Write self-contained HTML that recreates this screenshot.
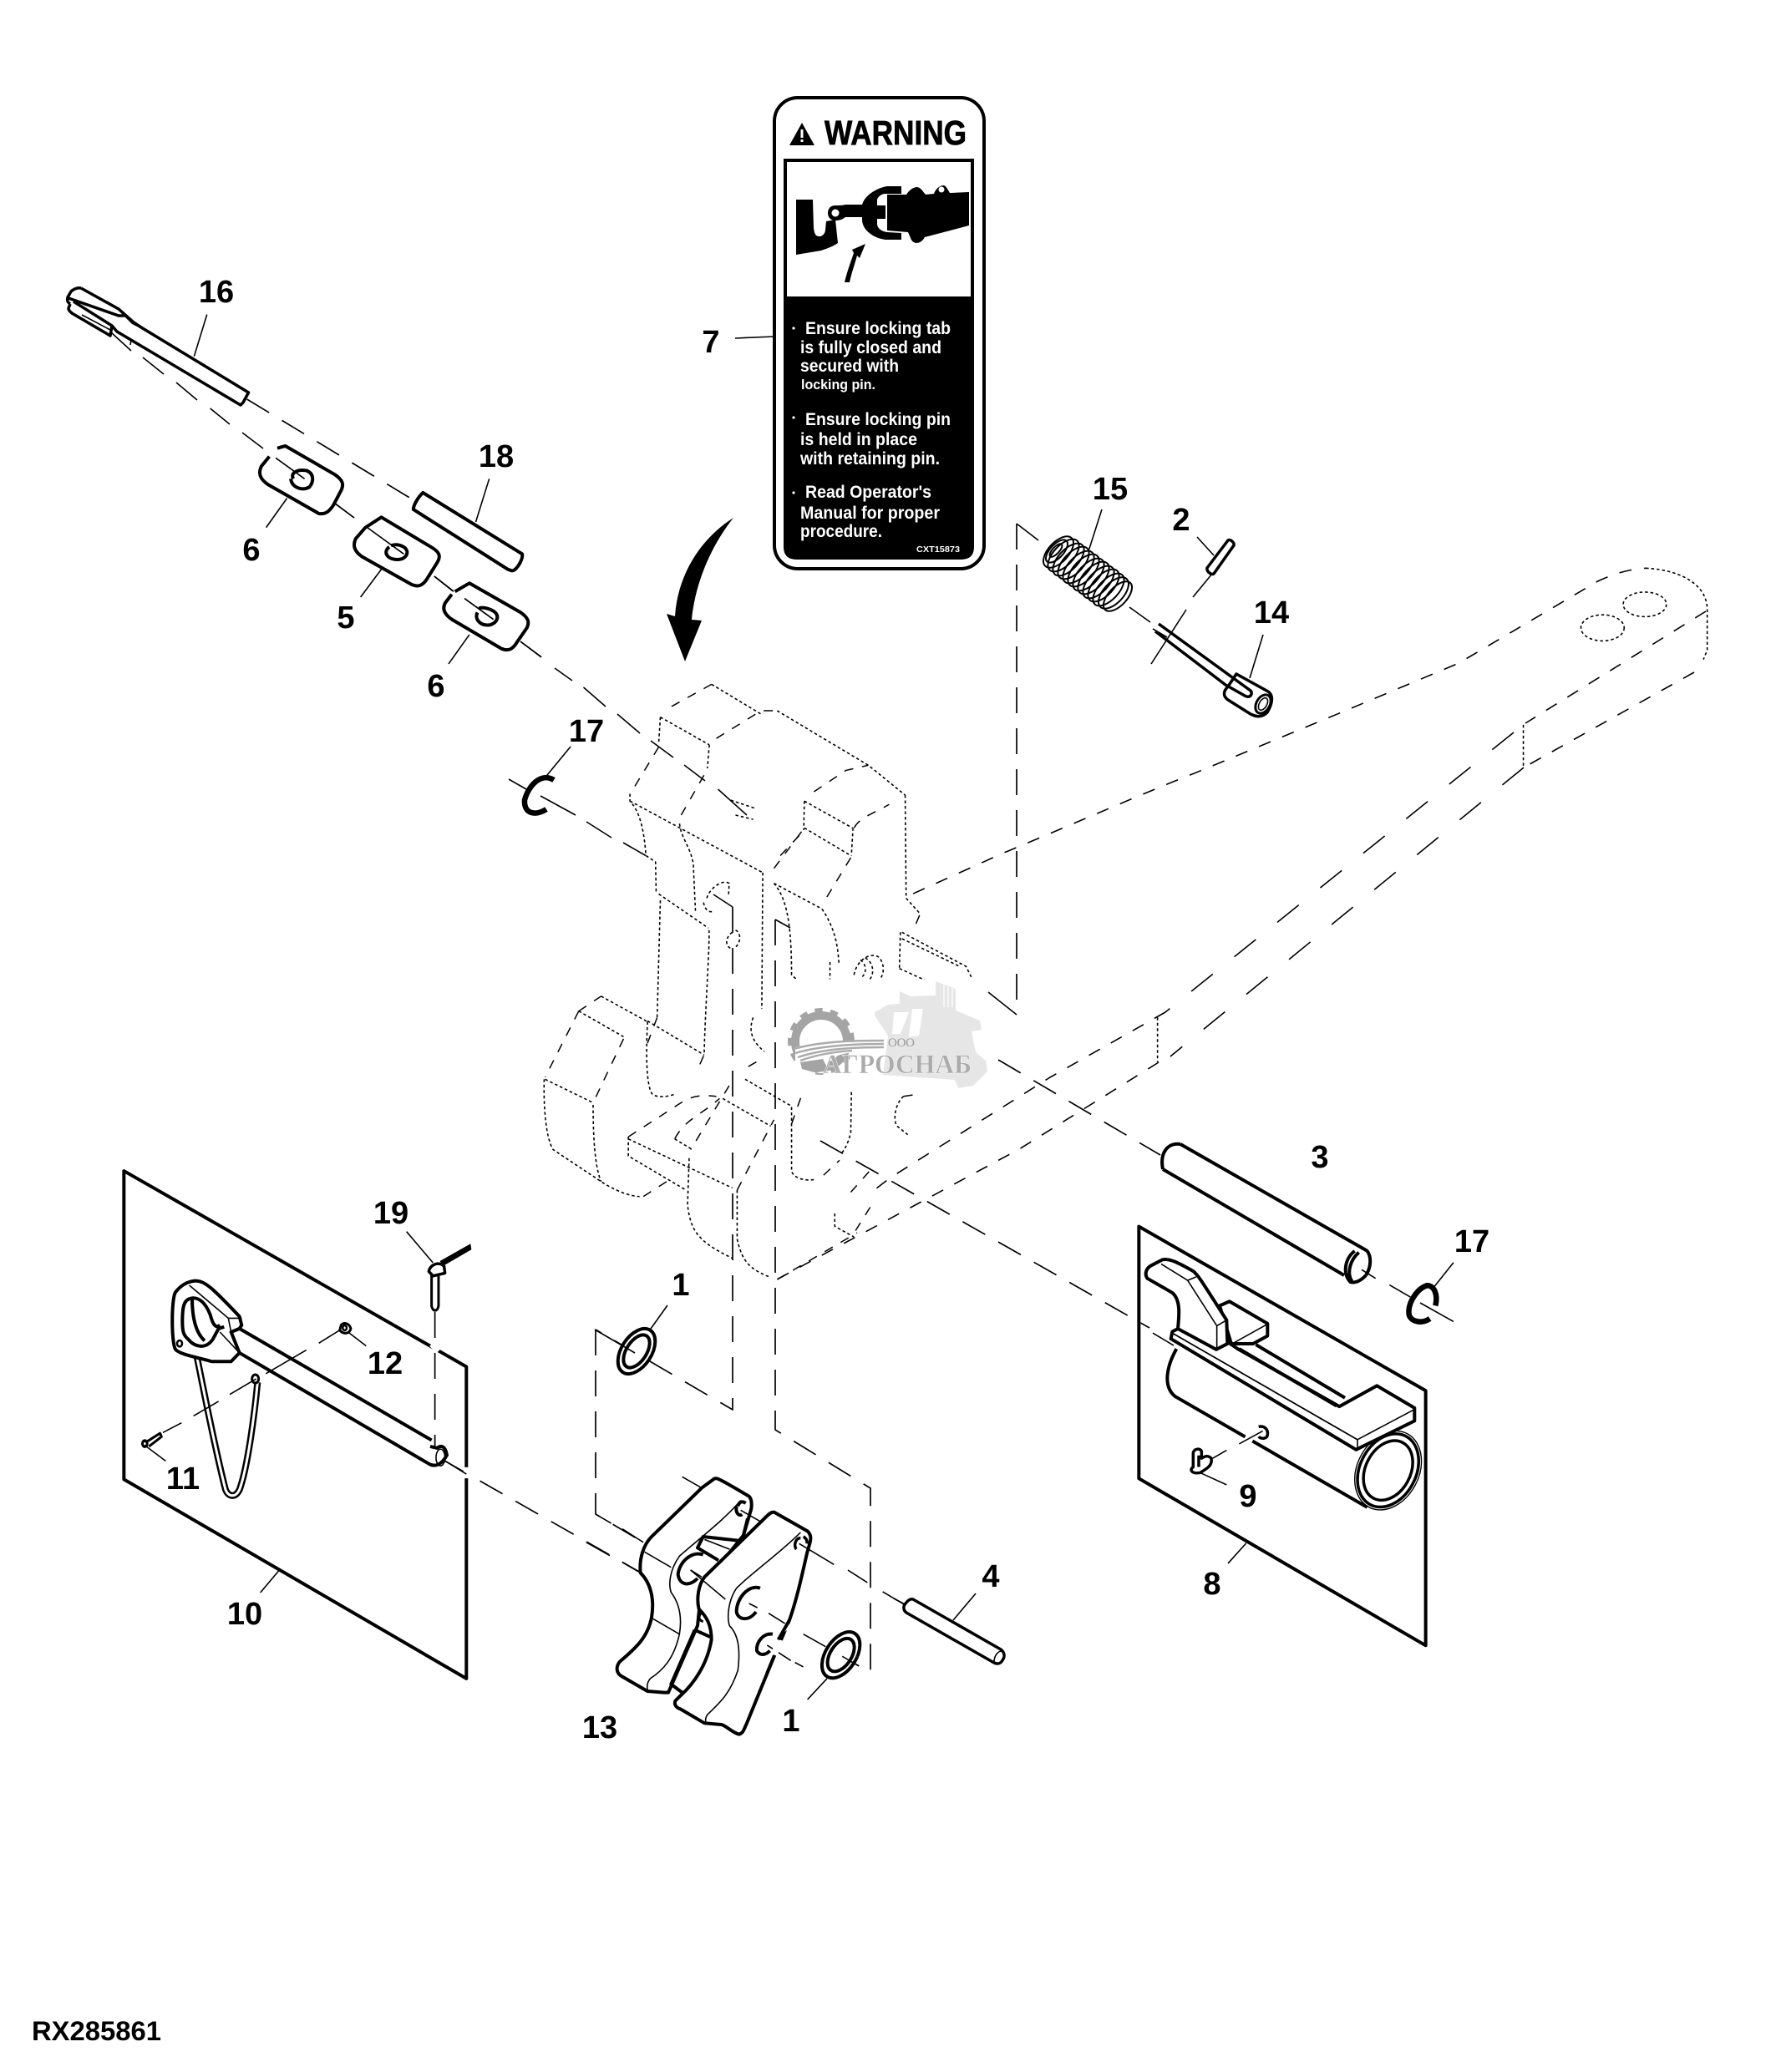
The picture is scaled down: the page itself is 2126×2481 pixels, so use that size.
<!DOCTYPE html>
<html><head><meta charset="utf-8"><style>
html,body{margin:0;padding:0;background:#fff}
svg{display:block}
svg *{vector-effect:non-scaling-stroke}
path,line,polyline,ellipse,circle,rect,polygon{stroke-linejoin:round}
.n{fill:none;stroke:#000}
.t{fill:none;stroke:#000;stroke-width:1.6}
.k{fill:none;stroke:#000;stroke-width:4}
.kw{fill:#fff;stroke:#000;stroke-width:4}
.dl{fill:none;stroke:#000;stroke-width:1.7;stroke-dasharray:31 18}
.d{fill:none;stroke:#000;stroke-width:1.6;stroke-dasharray:3.5 3}
.u{fill:none;stroke:#000;stroke-width:1.5;stroke-dasharray:11 11}
.a{fill:none;stroke:#000;stroke-width:1.6;stroke-dasharray:15 15}
.b{fill:none;stroke:#000;stroke-width:1.6;stroke-dasharray:33 33}
.l{font:bold 38px "Liberation Sans",sans-serif;text-anchor:middle;fill:#000}
.c{font:bold 21px "Liberation Sans",sans-serif;fill:#fff}
</style></head><body>
<svg xmlns="http://www.w3.org/2000/svg" width="2126" height="2481" viewBox="0 0 2126 2481">
<rect width="2126" height="2481" fill="#fff"/>

<!-- hitch dotted -->
<g transform="translate(620,800) scale(.3831,.5102)">
<path class="d" d="M605,38L760,108M810,100L1095,228L1210,298M445,115L598,180M445,115L440,175M598,180L592,235M350,295L350,312C385,340 395,390 400,440L430,455L432,530M350,312L765,480M505,365C510,400 540,420 548,460L555,575M440,530L595,610M445,545L435,820M597,615C600,650 585,800 582,905M405,828L582,908M260,770L405,830M190,805L330,865M85,965L235,1020M82,965C80,1020 85,1100 110,1130L260,1205C300,1225 350,1240 380,1240M235,1025C235,1100 240,1170 260,1205M405,830C400,900 400,980 420,1000C440,1010 470,1005 490,1000M590,540C600,515 640,495 660,505L658,535M580,550C585,570 600,575 612,570M670,620C650,630 645,650 665,658M680,615C695,620 700,640 680,655M665,310L745,330M680,345L735,355M765,480L762,800M895,312L1045,375M895,312L893,380M895,375L1040,440M1047,375L1042,440M1210,298L1213,540L1255,575M800,505L950,565M800,505C840,540 855,600 855,720L870,730M950,565C990,610 1000,650 1003,695M975,690L975,730M1195,620L1192,705M1200,620L1400,700L1420,730M1200,635L1380,700M1192,705L1280,735M1050,720C1060,680 1110,665 1130,680C1150,700 1140,725 1130,730M1085,680C1110,690 1115,715 1100,730M1070,685C1090,695 1090,715 1075,725M735,820C720,850 730,875 770,900M710,965L855,1028M855,1030L855,1180C860,1195 890,1205 930,1200M1042,995L1040,1090C1030,1120 1020,1130 1010,1140M1205,1005C1180,1020 1170,1060 1185,1075L1218,1095M640,1010L790,1075M345,1100L345,1145L525,1225M345,1105L670,1220M490,1105L545,1130M535,1150L530,1260C540,1320 560,1345 670,1385M685,1225L685,1340C700,1390 720,1410 790,1430M990,1280L990,1310L1050,1335"/>
<path class="u" d="M480,90L605,38M620,165L760,100L810,100M440,185L355,290M510,345L590,240M190,805L260,770M190,805L85,960M330,870L235,1020M392,1240L475,1200M435,820L405,880M580,910L560,945M800,470L895,375M820,440L895,380M925,290L1025,240L1095,228M1050,375C1070,350 1100,345 1160,320M1040,445L955,550M1255,580L1235,615M720,935L755,920M955,1190L1005,1155M855,1070L890,995M1205,1005L1250,1000M345,1100L520,1015C560,1000 590,1003 620,1005M660,980L540,1130M490,1105C520,1060 570,1050 630,1010M685,1225L800,1060M810,1435L1060,1325M1040,1230L1105,1175M1055,1320L1105,1260"/>
</g>

<!-- tow arm -->
<g transform="translate(1200,600) scale(.5747,.4464)">
<path class="a" d="M-186,1053L0,945C150,865 300,780 400,730L700,570L950,435L1240,215C1290,185 1320,182 1340,180"/>
<path class="d" d="M1340,180C1420,185 1468,230 1468,290L1468,400L1460,425M1085,600L1085,715M323,1385L323,1505"/>
<ellipse class="d" cx="1250" cy="340" rx="45" ry="35"/><ellipse class="d" cx="1338" cy="277" rx="45" ry="33"/>
</g>
<path class="a" d="M2042,732L1826,866"/><path class="b" d="M1812,877L1395,1212"/><path class="a" d="M1395,1212L1257,1290L1066,1410L1040,1430"/>
<path class="a" d="M2028,805L1824,919"/><path class="b" d="M1824,919L1401,1265"/><path class="a" d="M1387,1272L1220,1376L930,1532"/>

<!-- connector lines -->
<path class="dl" d="M295.6,478L497,600"/>
<path class="t" d="M133,398L157,420M171,428L196,448M211,458L236,479M251.6,489L275,508M290,518L315,537M401,603L424,620M520,690L543,708M623,768L648,787M664,800L685,815M698.5,823L725,846M739,855L766,878M779,887L806,907M819,916L844,935M859.5,945L894,976M609,933L630,945M702,984L732,1003M746,1009L773,1024.5"/>
<path class="t" d="M647,953L689,976"/>
<path class="t" d="M1217,627L1243,647M1217,1215L1183,1188"/>
<path class="dl" d="M1217,627L1217,1215"/>
<path class="dl" d="M1195,1269L1389,1383"/>
<path class="dl" d="M982,1366L1376,1590"/>
<path class="t" d="M854,1071L877,1086M928,1101L946,1111"/>
<path class="dl" d="M877,1086L877,1688L713,1592"/>
<path class="dl" d="M713,1592L713,1813L767,1845"/>
<path class="dl" d="M928,1101L928,1712L1042,1782L1042,2003"/>
<path class="dl" d="M532,1749L767,1883"/>

<!-- pin 16 head + shaft -->
<path class="k" style="stroke-width:3.5" d="M97,345C92,344 87,347 85,349L81,356C80,360 81,362 84,364M97,345L142,370L160,386L169,392L297.5,470L291,482L288,485L140,397L134,390L132,402L86,375C84,373 82,372 82,369L84,364M82,357L142,378L150,378M88,361L134,390"/>
<path class="t" d="M98,377L132,395M157,407L156,413"/>
<path d="M142,372L150,378L170,394L158,388Z" fill="#000"/>

<g transform="translate(60,320) scale(.3831,.3333)">
<path class="t" d="M490,170L450,320M1372,760L1330,915M740,830L675,935M1035,1085L970,1185M1310,1320L1245,1425M705,685L795,760M985,930L1105,1030M1295,1190L1385,1265M890,848L950,900M1200,1110L1260,1165"/>
<path class="k" style="fill:#fff" d="M1165,810L1475,1030C1478,1045 1465,1075 1450,1088C1445,1092 1440,1090 1430,1085L1135,870C1135,855 1150,825 1165,810Z"/>
<path class="k" d="M710,650L735,642L890,745C915,765 918,780 910,800L885,855C870,880 860,888 840,885L680,780C655,760 650,740 660,715L685,680"/>
<path class="k" d="M760,760C750,740 770,725 800,730C825,740 825,770 810,790C785,805 755,790 752,760"/>
<path class="k" d="M985,935L1035,898L1190,1005C1220,1025 1220,1040 1210,1060L1180,1115C1165,1145 1150,1150 1130,1140L975,1040C950,1020 945,1000 955,975Z"/>
<path class="k" d="M1060,1005C1040,1020 1050,1050 1085,1050C1115,1050 1125,1020 1105,1005C1090,995 1075,995 1065,1000"/>
<path class="k" d="M1265,1165L1310,1135L1470,1240C1495,1260 1498,1275 1490,1295L1460,1345C1445,1375 1430,1380 1410,1370L1255,1265C1230,1245 1225,1225 1235,1205L1255,1175" />
<path class="k" d="M1335,1240C1325,1265 1345,1290 1375,1285C1400,1275 1405,1250 1385,1235C1370,1225 1350,1220 1340,1225"/>
<path class="t" d="M1295,1190L1385,1265M1470,1345L1535,1400"/>
</g>

<!-- big arrow -->
<path d="M878,620C846,640 812,680 808,738L798,735L820,792L840,743L828,742C832,700 850,655 878,620Z" fill="#000"/>

<!-- warning card -->
<rect x="927" y="117" width="251" height="564" rx="28" fill="#fff" stroke="#000" stroke-width="4"/>
<path d="M938,190H1166V655Q1166,670 1150,670H954Q938,670 938,655Z" fill="#000"/>
<rect x="942" y="194" width="220" height="161" fill="#fff"/>
<polygon points="945,174 975,174 960,147" fill="#000"/>
<rect x="958.5" y="155" width="3" height="10" fill="#fff"/><rect x="958.5" y="167" width="3" height="3" fill="#fff"/>
<text x="987" y="173" font-family="Liberation Sans" font-weight="bold" font-size="41" textLength="170" lengthAdjust="spacingAndGlyphs" stroke="#000" stroke-width=".8">WARNING</text>
<path d="M953,239H973L974,273C975,281 977,283 981,283C985,283 988,279 988,275L989,265L1000,263L1003,291C996,296 988,298 983,300L953,305Z" fill="#000"/>
<path d="M1000,246C1004,246 1008,246 1012,245H1034V260H1012C1008,263 1005,264 1000,264C994,264 991,260 991,255C991,250 994,246 1000,246Z" fill="#000"/>
<circle cx="1000" cy="255" r="4.5" fill="#fff"/>
<path d="M1079,223H1062C1045,226 1032,238 1032,247V263C1032,275 1045,285 1060,287H1079V279L1062,278C1055,277 1050,273 1050,268V262H1060V246H1050V240C1050,236 1055,232 1060,232H1079Z" fill="#000"/>
<path d="M1062,233H1085C1088,228 1093,224 1098,224C1103,225 1105,230 1108,233L1118,232C1120,226 1125,222 1130,222C1133,223 1135,228 1137,231L1160,230V270L1107,284C1103,292 1093,294 1090,285L1087,278L1062,276Z" fill="#000"/>
<circle cx="1127" cy="227" r="3.5" fill="#fff"/>
<path d="M1011,338C1014,325 1018,315 1022,303L1020,299L1036,292L1029,309L1026,306C1023,317 1019,328 1017,338Z" fill="#000"/>
<g class="c">
<circle cx="950" cy="393" r="1.6" fill="#fff"/><circle cx="950" cy="500" r="1.6" fill="#fff"/><circle cx="950" cy="590" r="1.6" fill="#fff"/>
<text x="964" y="400" textLength="174" lengthAdjust="spacingAndGlyphs">Ensure locking tab</text>
<text x="958" y="423" textLength="169" lengthAdjust="spacingAndGlyphs">is fully closed and</text>
<text x="958" y="445" textLength="118" lengthAdjust="spacingAndGlyphs">secured with</text>
<text x="959" y="466" textLength="89" lengthAdjust="spacingAndGlyphs" style="font-size:17px">locking pin.</text>
<text x="964" y="509" textLength="174" lengthAdjust="spacingAndGlyphs">Ensure locking pin</text>
<text x="958" y="533" textLength="140" lengthAdjust="spacingAndGlyphs">is held in place</text>
<text x="958" y="556" textLength="167" lengthAdjust="spacingAndGlyphs">with retaining pin.</text>
<text x="964" y="596" textLength="151" lengthAdjust="spacingAndGlyphs">Read Operator's</text>
<text x="958" y="621" textLength="167" lengthAdjust="spacingAndGlyphs">Manual for proper</text>
<text x="958" y="643" textLength="98" lengthAdjust="spacingAndGlyphs">procedure.</text>
<text x="1097" y="661" textLength="52" lengthAdjust="spacingAndGlyphs" style="font-size:10px">CXT15873</text>
</g>
<path class="t" d="M880,405L926,403"/>

<!-- spring, pins 2, 14 -->
<g fill="none" stroke="#000" stroke-width="2">
<ellipse cx="1267" cy="661" rx="12" ry="23" transform="rotate(43 1267 661)"/>
<ellipse cx="1273" cy="665" rx="12" ry="24" transform="rotate(43 1273 665)"/>
<ellipse cx="1279" cy="670" rx="12" ry="24" transform="rotate(43 1279 670)"/>
<ellipse cx="1285" cy="674" rx="12" ry="24" transform="rotate(43 1285 674)"/>
<ellipse cx="1291" cy="679" rx="12" ry="24" transform="rotate(43 1291 679)"/>
<ellipse cx="1297" cy="683" rx="12" ry="24" transform="rotate(43 1297 683)"/>
<ellipse cx="1303" cy="688" rx="12" ry="24" transform="rotate(43 1303 688)"/>
<ellipse cx="1309" cy="692" rx="12" ry="24" transform="rotate(43 1309 692)"/>
<ellipse cx="1315" cy="697" rx="12" ry="24" transform="rotate(43 1315 697)"/>
<ellipse cx="1321" cy="701" rx="12" ry="24" transform="rotate(43 1321 701)"/>
<ellipse cx="1327" cy="706" rx="12" ry="24" transform="rotate(43 1327 706)"/>
<ellipse cx="1333" cy="710" rx="12" ry="23" transform="rotate(43 1333 710)"/>
<ellipse cx="1338" cy="714" rx="11" ry="22" transform="rotate(43 1338 714)"/>
<ellipse cx="1265" cy="660" rx="8" ry="17" transform="rotate(43 1265 660)"/>
<ellipse cx="1264" cy="659" rx="4" ry="10" transform="rotate(43 1264 659)"/>
</g>
<path class="t" d="M1319,610L1303,660M1352,727L1377,745M1433,643L1453,665M1451,687L1428,715M1420,730L1378,795M1512,760L1496,812"/>
<path class="k" style="stroke-width:3.5" d="M1445,680L1470,647C1473,645 1478,650 1477,653L1453,687C1450,689 1444,684 1445,680Z"/>
<path class="kw" style="stroke-width:3.5" d="M1480,807L1518,828C1525,833 1523,843 1517,853C1510,860 1503,858 1497,855L1470,838C1463,833 1465,827 1470,822Z"/>
<ellipse class="k" style="stroke-width:3" cx="1512" cy="843" rx="8" ry="12" transform="rotate(30 1512 843)"/>
<ellipse class="k" style="stroke-width:1.6" cx="1512" cy="843" rx="4.5" ry="8" transform="rotate(30 1512 843)"/>
<path class="k" style="stroke-width:3.5" d="M1387,747L1497,827C1500,830 1497,837 1490,833L1467,820L1383,756"/>
<path class="t" d="M1380,753L1397,763"/>

<!-- pin 3 -->
<path class="k" d="M1413,1370L1637,1498M1392,1400L1609,1527M1413,1370C1398,1368 1388,1380 1392,1400"/>
<g transform="translate(1360,1460) scale(.3333,.3448)">
<path class="k" d="M830,110C845,130 845,165 825,195M785,110C750,135 740,190 770,218C790,222 810,210 825,195M800,115C770,140 755,185 775,215"/>
<path class="t" d="M810,175L860,205M910,228L985,270M1020,290L1140,355M1070,235L1140,150"/>
<path class="k" style="stroke-width:6.5" d="M1075,300C1085,260 1070,230 1045,230C1010,240 975,290 980,330C985,355 1025,365 1055,345"/>
<!-- panel 8 -->
<path class="k" d="M10,25L1040,595L1040,1480L10,900Z"/>
<path class="t" d="M395,1125L330,1195"/>
<path class="k" style="fill:#fff" d="M145,450C110,510 95,580 140,615L830,1000"/>
<path class="t" style="stroke:#fff;stroke-width:6" d="M392,755L418,770"/>
<ellipse class="n" stroke-width="3.5" cx="905" cy="872" rx="100" ry="135" transform="rotate(30 905 872)" fill="#fff"/>
<ellipse class="n" stroke-width="1.4" cx="905" cy="872" rx="110" ry="145" transform="rotate(30 905 872)"/>
<ellipse class="n" stroke-width="3.5" cx="905" cy="872" rx="80" ry="110" transform="rotate(30 905 872)"/>
<path class="kw" d="M130,390L125,415L790,800L1000,700V655L865,578L730,650L365,450L290,400L150,380Z"/>
<path class="t" d="M130,395L795,765L1000,660M795,765V800"/>
<path class="kw" d="M300,300L335,285L472,362V405L420,432H342L300,300Z"/>
<path class="k" d="M430,435L750,620M370,450L720,648"/>
<path class="t" d="M340,435L470,365"/>
<path class="kw" d="M150,380C155,330 160,280 130,255L40,205C30,190 35,170 55,160L95,140C120,135 150,150 205,180C225,195 245,230 325,350L328,432L288,452Z"/>
<path class="t" d="M90,155L185,212L290,370V450M290,370L325,350M185,212L215,200M60,395L135,438M130,395L795,765"/>
<path class="k" style="stroke-width:3.5" d="M440,720C465,715 478,735 470,755C460,765 445,760 440,755"/>
<path class="k" style="stroke-width:3.5" d="M205,810L205,860C190,870 200,885 230,880C255,865 275,855 270,830C260,820 250,820 235,830L235,805C230,795 210,795 205,810ZM225,820V860"/>
<path class="t" d="M275,830L325,802M370,780L455,735M230,880L325,922"/>
</g>

<!-- panel 10 -->
<g transform="translate(130,1400) scale(.3333,.4149)">
<path class="k" d="M55,5L1285,570V1470L55,895Z"/>
<path class="n" style="stroke:#fff;stroke-width:7" d="M1160,505L1185,525M1285,860V892"/>
<path class="t" d="M610,1160L545,1222"/>
<path class="n" stroke-width="8" d="M318,545C345,650 380,800 420,925C430,945 455,950 470,925C500,860 525,700 535,615"/>
<path class="n" style="stroke:#fff" stroke-width="3" d="M318,545C345,650 380,800 420,925C430,945 455,950 470,925C500,860 525,700 535,615"/>
<circle class="kw" style="stroke-width:3" cx="527" cy="605" r="12"/>
<path class="k" d="M470,460L1160,782M385,490L1150,850C1170,860 1195,855 1215,825C1210,800 1195,795 1180,805L1155,800"/>
<ellipse class="t" cx="1192" cy="832" rx="16" ry="24"/>
<path class="kw" d="M240,355C225,375 225,500 240,520C255,535 330,545 370,555H440L470,530L440,470L470,460L478,450L470,425C370,340 345,322 310,322C280,325 260,335 240,355Z"/>
<path class="k" d="M300,372C270,375 265,395 265,440C265,470 270,480 285,490C310,515 350,520 375,490L395,460L415,455M300,372C330,370 350,390 365,420C375,450 385,460 400,450M300,372C300,420 310,470 345,495"/>
<path class="t" d="M290,335L430,430L440,470M430,430H478M400,470L470,530"/>
<circle class="k" style="stroke-width:2.5" cx="255" cy="503" r="9"/>
<path class="t" d="M195,760L262,732M305,712L395,670M435,650L530,605M565,590L710,522M755,502L835,462M135,800L205,842M860,470L925,510M1070,180L1165,270M1205,840L1285,880"/>
<path class="k" style="stroke-width:3" d="M140,785L185,762L190,772L145,800M835,450C845,440 865,445 870,460C865,475 845,478 830,465Z"/>
<circle class="k" style="stroke-width:2.5" cx="848" cy="458" r="7"/>
<circle cx="130" cy="792" r="13" fill="#000"/><circle cx="130" cy="792" r="4" fill="#fff"/>
<path class="kw" style="stroke-width:3" d="M1160,300L1160,395C1165,412 1180,412 1185,395V300Z"/>
<path class="kw" style="stroke-width:3.5" d="M1150,295C1155,275 1185,265 1205,280L1208,300L1165,308Z"/>
<path d="M1190,265L1300,215L1303,232L1200,280Z" fill="#000"/>
<path class="dl" d="M1172,412V800"/>
</g>

<!-- part 13 etc -->
<g transform="translate(700,1740) scale(.3333)">
<path class="t" d="M350,85L420,125M40,220L95,252M135,272L210,320M215,355L310,410M380,420L505,525M5,320L90,368M135,392L200,430M240,592L340,650M445,722L545,780"/>
<path class="kw" d="M420,125L465,92C475,88 480,90 590,155C600,165 600,185 598,200L570,295L420,480L405,620L300,860L285,860L225,855L130,800C115,790 110,770 125,750C170,710 225,670 240,590C250,530 240,470 200,430C195,380 210,330 240,300Z"/>
<path class="t" d="M560,170C500,240 420,300 340,370C305,420 300,470 310,500C340,540 350,590 340,650C320,740 280,780 235,810C220,830 225,840 225,855"/>
<path class="k" d="M425,365C385,350 340,390 335,435C340,475 375,480 405,450M550,190C555,175 565,170 578,180M545,190C540,215 555,228 565,220"/>
<path class="k" d="M560,315L425,300L405,340L480,385M585,235L570,295"/>
<path class="t" d="M380,420L420,445M430,310L520,345M240,592L340,650M215,355L310,410M560,205L630,245"/>
<path class="kw" d="M680,212C670,210 660,220 650,230L430,445C410,470 400,520 410,560C440,590 455,620 455,670C440,760 390,830 345,870L325,890C320,905 330,915 345,920L430,970L490,975C510,980 530,1005 555,1010C570,1005 572,990 580,975L680,730L735,600C760,530 780,440 798,360L808,325C812,310 815,295 800,280Z"/>
<path class="t" d="M775,285C700,360 600,430 545,485C515,530 510,590 520,620C550,650 560,700 550,780C520,870 480,900 440,940C430,955 435,965 435,970"/>
<path class="k" d="M395,635L310,830L350,860M395,635L450,660"/>
<path class="k" style="stroke-width:3" d="M420,570C405,590 410,600 425,605"/>
<path class="k" d="M630,485C590,470 545,520 545,570C550,600 590,605 615,570"/>
<path class="k" d="M675,650C640,645 615,680 618,710C630,730 650,725 665,710"/>
<path class="k" style="stroke-width:3.5" d="M775,305C755,305 750,335 760,345M785,300C795,305 800,315 798,325"/>
<path class="t" d="M380,420L505,525M590,540L620,555M660,575L740,625M785,650L865,695M655,690L740,745M755,752L785,768M770,325L895,400M945,420L1015,465M1070,498L1150,545M925,730L985,765M870,810L800,885"/>
<path class="n" style="stroke:#fff;stroke-width:8" d="M700,640L735,615M680,725L700,670"/>
<path class="k" d="M695,670L735,600M680,730L655,790"/>
<ellipse class="kw" cx="920" cy="725" rx="55" ry="92" transform="rotate(33 920 725)"/>
<ellipse class="k" cx="920" cy="725" rx="38" ry="66" transform="rotate(33 920 725)"/>
<path class="t" d="M925,730L985,765"/>
</g>
<ellipse class="kw" cx="762" cy="1618" rx="18" ry="30" transform="rotate(33 762 1618)"/>
<ellipse class="k" cx="762" cy="1618" rx="12" ry="22" transform="rotate(33 762 1618)"/>
<path class="t" d="M799,1563L779,1591"/>
<path class="t" d="M712,1592L760,1620"/>

<!-- ring 17 a -->
<path class="k" style="stroke-width:6.5" d="M663,934C647,924 632,942 628,958C627,975 641,977 654,969"/>
<path class="t" d="M683,894L654.5,928.6"/>
<!-- pin 4 -->
<path class="t" d="M1070,1914L1085,1922M1168,1908L1141,1940"/>
<path class="kw" style="stroke-width:3.5" d="M1093,1915L1198,1975C1203,1979 1203,1984 1200,1988C1198,1992 1194,1993 1190,1991L1085,1931C1081,1928 1081,1923 1084,1920C1087,1916 1090,1914 1093,1915Z"/>
<path class="t" d="M1190,1990C1190,1982 1195,1977 1199,1977"/>

<!-- watermark -->
<polygon points="950,1173 1170,1173 1192,1200 1190,1303 940,1305 948,1200" fill="#fff"/>
<path d="M1047,1212L1063,1203L1077,1202V1187L1090,1193L1120,1192V1175L1144,1184V1210L1173,1222L1175,1233L1163,1235L1168,1260L1180,1270L1182,1283L1165,1300L1147,1303L1143,1293L1057,1287L1063,1240L1047,1216Z" fill="#e6e6e6"/>
<path d="M1070,1212L1088,1212L1078,1238H1068ZM1092,1208L1105,1208L1100,1240L1088,1242Z" fill="#fff"/>
<path d="M1145,1185V1208M1140,1183V1206M1135,1181V1206M1130,1179V1206" stroke="#fff" stroke-width="1.2" fill="none"/>
<circle cx="983" cy="1247" r="36" fill="none" stroke="#a4a4a4" stroke-width="8" stroke-dasharray="9 9"/>
<circle cx="983" cy="1247" r="31" fill="none" stroke="#a4a4a4" stroke-width="10"/>
<path d="M952,1254C985,1245 1030,1247 1059,1247V1257C1030,1258 1010,1260 995,1267L985,1285H965L952,1278Z" fill="#fff"/>
<path d="M950,1256C985,1246 1030,1246 1058,1246M952,1261C985,1251 1030,1250 1058,1250M955,1266C985,1256 1020,1254 1058,1254M958,1270C980,1262 1005,1259 1020,1258" fill="none" stroke="#ababab" stroke-width="2.4"/>
<path d="M958,1272L985,1268L992,1282L978,1284L982,1286L960,1280Z" fill="#a4a4a4"/>
<text x="1063" y="1253" font-family="Liberation Serif" font-size="15" fill="#9a9a9a" textLength="32" lengthAdjust="spacing">ООО</text>
<text x="985" y="1285" font-family="Liberation Serif,serif" font-size="33" font-weight="bold" fill="#ababab" stroke="#fff" stroke-width=".4" textLength="178" lengthAdjust="spacingAndGlyphs">АГРОСНАБ</text>

<!-- labels -->
<text class="l" x="259" y="362">16</text>
<text class="l" x="594" y="559">18</text>
<text class="l" x="301" y="671">6</text>
<text class="l" x="414" y="752">5</text>
<text class="l" x="522" y="834">6</text>
<text class="l" x="851" y="422">7</text>
<text class="l" x="702" y="888">17</text>
<text class="l" x="815" y="1551">1</text>
<text class="l" x="1329" y="598">15</text>
<text class="l" x="1414" y="635">2</text>
<text class="l" x="1522" y="746">14</text>
<text class="l" x="1580" y="1398">3</text>
<text class="l" x="1762" y="1499">17</text>
<text class="l" x="468" y="1465">19</text>
<text class="l" x="461" y="1645">12</text>
<text class="l" x="219" y="1783">11</text>
<text class="l" x="293" y="1945">10</text>
<text class="l" x="1186" y="1900">4</text>
<text class="l" x="718" y="2081">13</text>
<text class="l" x="947" y="2073">1</text>
<text class="l" x="1494" y="1804">9</text>
<text class="l" x="1451" y="1909">8</text>
<text x="38" y="2443" font-family="Liberation Sans" font-weight="bold" font-size="32" textLength="155" lengthAdjust="spacingAndGlyphs">RX285861</text>
</svg>
</body></html>
